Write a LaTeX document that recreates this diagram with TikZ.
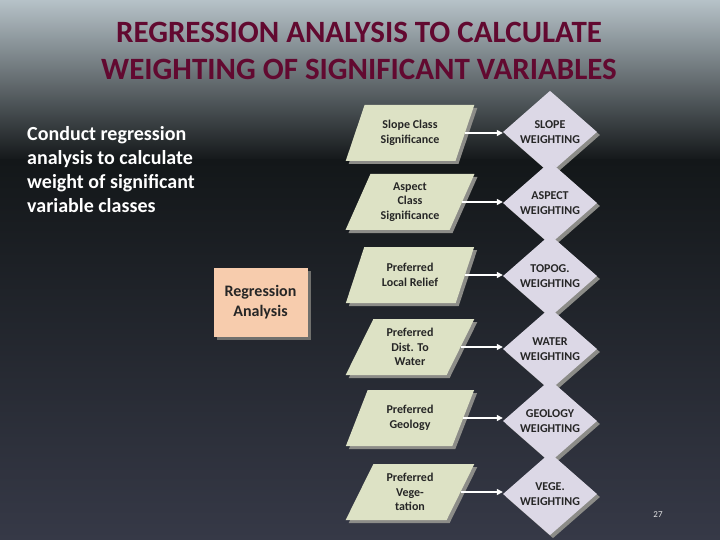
\documentclass[tikz,border=0pt]{standalone}
\usepackage{fontspec}
\setmainfont{Carlito}
\usepackage{xcolor}
\usepackage{tikz}
\usetikzlibrary{shapes.geometric,shadows,arrows.meta}

\definecolor{bgtop}{HTML}{B6C2C8}
\definecolor{bgmid}{HTML}{131719}
\definecolor{bgbot}{HTML}{363947}
\definecolor{titlered}{HTML}{620930}
\definecolor{sigfill}{HTML}{DDE2C5}
\definecolor{wtfill}{HTML}{DCD8E6}
\definecolor{regfill}{HTML}{F7CCAD}
\definecolor{shadowgray}{HTML}{8C8C88}

\begin{document}
\begin{tikzpicture}[x=1pt, y=-1pt,
    sig/.style={trapezium, trapezium left angle=65, trapezium right angle=115,
        trapezium stretches, minimum width=129pt, minimum height=56pt, inner sep=1pt,
        fill=sigfill, align=center, text=black!85,
        font=\fontsize{12}{14.6}\selectfont\bfseries,
        drop shadow={shadow xshift=3pt, shadow yshift=-3pt, fill=shadowgray, opacity=1}},
    wt/.style={diamond, minimum width=94pt, minimum height=70pt, inner sep=0pt,
        fill=wtfill, align=center, text=black!85,
        font=\fontsize{12}{14.6}\selectfont\bfseries,
        drop shadow={shadow xshift=3pt, shadow yshift=-3pt, fill=shadowgray, opacity=1}},
    regbox/.style={rectangle, minimum width=94pt, minimum height=69pt,
        fill=regfill, align=center, text=black!85,
        font=\fontsize{16}{20}\selectfont\bfseries,
        drop shadow={shadow xshift=3pt, shadow yshift=-3pt, fill=shadowgray!80!black, opacity=1}},
    flow/.style={-{Triangle[length=6pt,width=6pt]}, white, line width=1.2pt}
]
    \useasboundingbox (0,0) rectangle (720,540);

    % Background
    \shade[top color=bgtop, bottom color=bgmid] (0,0) rectangle (720,160.5);
    \shade[top color=bgmid, bottom color=bgbot] (0,160) rectangle (720,540);

    % Title and intro text
    \node[font=\fontsize{31}{37}\selectfont\bfseries, text=titlered, align=center] (title)
        at (359,51) {REGRESSION ANALYSIS TO CALCULATE\\WEIGHTING OF SIGNIFICANT VARIABLES};
    \node[anchor=north west, inner sep=0pt, align=left, text=white,
        font=\fontsize{20}{24}\selectfont\bfseries] (intro) at (27,126)
        {Conduct regression\\analysis to calculate\\weight of significant\\variable classes};

    % Regression box
    \node[regbox] (reg) at (260.5,302.5) {Regression\\Analysis};

    % Significance inputs
    \node[sig] (slopesig) at (410,133) {Slope Class\\Significance};
    \node[sig] (aspectsig) at (410,202) {Aspect\\Class\\Significance};
    \node[sig] (reliefsig) at (410,275) {Preferred\\Local Relief};
    \node[sig] (watersig) at (410,347) {Preferred\\Dist. To\\Water};
    \node[sig] (geolsig) at (410,418) {Preferred\\Geology};
    \node[sig] (vegsig) at (410,492) {Preferred\\Vege-\\tation};

    % Weightings
    \node[wt] (slopewt) at (550,132) {SLOPE\\WEIGHTING};
    \node[wt] (aspectwt) at (550,203) {ASPECT\\WEIGHTING};
    \node[wt] (topowt) at (550,276) {TOPOG.\\WEIGHTING};
    \node[wt] (waterwt) at (550,349) {WATER\\WEIGHTING};
    \node[wt] (geolwt) at (550,421) {GEOLOGY\\WEIGHTING};
    \node[wt] (vegwt) at (550,494) {VEGE.\\WEIGHTING};

    % Arrows
    \draw[flow] (slopesig.east) -- (slopesig.east -| slopewt.west);
    \draw[flow] (aspectsig.east) -- (aspectsig.east -| aspectwt.west);
    \draw[flow] (reliefsig.east) -- (reliefsig.east -| topowt.west);
    \draw[flow] (watersig.east) -- (watersig.east -| waterwt.west);
    \draw[flow] (geolsig.east) -- (geolsig.east -| geolwt.west);
    \draw[flow] (vegsig.east) -- (vegsig.east -| vegwt.west);

    % Page number
    \node[font=\fontsize{9}{11}\selectfont, text=white!90!black] (pagenum) at (658,515) {27};
\end{tikzpicture}
\end{document}
